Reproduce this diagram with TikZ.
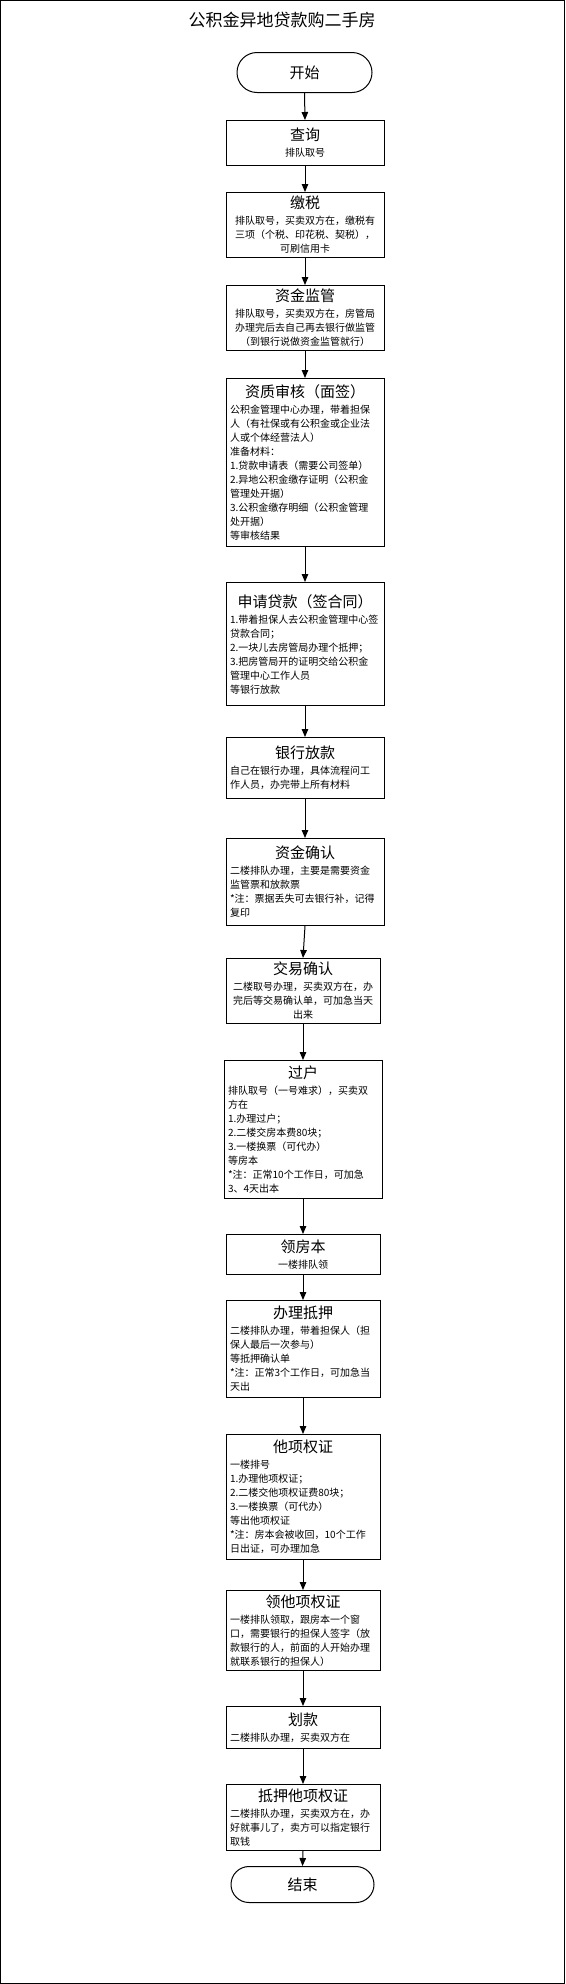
\documentclass[tikz,border=0pt]{standalone}
\usepackage{fontspec}
\setmainfont{Noto Sans CJK SC}
\usetikzlibrary{arrows.meta}
\setlength{\parindent}{0pt}
\newcommand{\steptitle}[1]{{\centering\fontsize{15}{19}\selectfont #1\par}\vspace{2pt}}

\begin{document}
\begin{tikzpicture}[x=1pt, y=-1pt, >={Triangle[length=8pt,width=6.5pt]}, line width=1pt]

\useasboundingbox (0,0) rectangle (565,1984);
\draw (0.75,0.75) rectangle (564.25,1983.25);
\node[font=\fontsize{17}{20}\selectfont] (title) at (282,20) {公积金异地贷款购二手房};

\tikzstyle{every node}=[draw, rectangle, anchor=north, font=\fontsize{15}{18}\selectfont]
\draw (304.5,52)  node[minimum width=135pt, minimum height=40pt, rounded corners=20pt] (start) {开始}
      (302.5,1866) node[minimum width=143pt, minimum height=36pt, rounded corners=18pt] (end) {结束};

\tikzstyle{every node}=[draw, rectangle, anchor=north, inner xsep=4pt, inner ysep=2pt,
  text width=150pt, align=center, font=\fontsize{10}{14}\selectfont]
\draw (305,120) node[minimum height=45pt] (chaxun) {\steptitle{查询}排队取号}
      (305,192) node[minimum height=65pt] (jiaoshui) {\steptitle{缴税}排队取号，买卖双方在，缴税有\\三项（个税、印花税、契税），\\可刷信用卡}
      (305,285) node[minimum height=65pt] (jianguan) {\steptitle{资金监管}排队取号，买卖双方在，房管局\\办理完后去自己再去银行做监管\\（到银行说做资金监管就行）};

\draw (305,378) node[minimum height=168pt, align=left] (shenhe) {\steptitle{资质审核（面签）}公积金管理中心办理，带着担保\\人（有社保或有公积金或企业法\\人或个体经营法人）\\准备材料：\\1.贷款申请表（需要公司签单）\\2.异地公积金缴存证明（公积金\\管理处开据）\\3.公积金缴存明细（公积金管理\\处开据）\\等审核结果}
      (305,582) node[minimum height=123pt, align=left] (shenqing) {\steptitle{申请贷款（签合同）}1.带着担保人去公积金管理中心签\\贷款合同；\\2.一块儿去房管局办理个抵押；\\3.把房管局开的证明交给公积金\\管理中心工作人员\\等银行放款}
      (305,737) node[minimum height=61pt, align=left] (fangkuan) {\steptitle{银行放款}自己在银行办理，具体流程问工\\作人员，办完带上所有材料}
      (305,838) node[minimum height=87pt, align=left] (queren) {\steptitle{资金确认}二楼排队办理，主要是需要资金\\监管票和放款票\\{}*注：票据丢失可去银行补，记得\\复印};

\tikzstyle{every node}=[draw, rectangle, anchor=north, inner xsep=4pt, inner ysep=2pt,
  text width=146pt, align=left, font=\fontsize{10}{14}\selectfont]
\draw (303,958)  node[minimum height=65pt, align=center] (jiaoyi) {\steptitle{交易确认}二楼取号办理，买卖双方在，办\\完后等交易确认单，可加急当天\\出来}
      (303,1060) node[minimum height=138pt, text width=150pt] (guohu) {\steptitle{过户}排队取号（一号难求），买卖双\\方在\\1.办理过户；\\2.二楼交房本费80块；\\3.一楼换票（可代办）\\等房本\\{}*注：正常10个工作日，可加急\\3、4天出本}
      (303,1234) node[minimum height=40pt, align=center] (lingfangben) {\steptitle{领房本}一楼排队领}
      (303,1300) node[minimum height=97pt] (diya) {\steptitle{办理抵押}二楼排队办理，带着担保人（担\\保人最后一次参与）\\等抵押确认单\\{}*注：正常3个工作日，可加急当\\天出}
      (303,1434) node[minimum height=125pt] (taxiang) {\steptitle{他项权证}一楼排号\\1.办理他项权证；\\2.二楼交他项权证费80块；\\3.一楼换票（可代办）\\等出他项权证\\{}*注：房本会被收回，10个工作\\日出证，可办理加急}
      (303,1590) node[minimum height=80pt] (lingtaxiang) {\steptitle{领他项权证}一楼排队领取，跟房本一个窗\\口，需要银行的担保人签字（放\\款银行的人，前面的人开始办理\\就联系银行的担保人）}
      (303,1706) node[minimum height=42pt] (huakuan) {\steptitle{划款}二楼排队办理，买卖双方在}
      (303,1784) node[minimum height=66pt] (diyataxiang) {\steptitle{抵押他项权证}二楼排队办理，买卖双方在，办\\好就事儿了，卖方可以指定银行\\取钱};

\draw[->] (start.south) -- (chaxun.north);
\draw[->] (chaxun.south) -- (jiaoshui.north);
\draw[->] (jiaoshui.south) -- (jianguan.north);
\draw[->] (jianguan.south) -- (shenhe.north);
\draw[->] (shenhe.south) -- (shenqing.north);
\draw[->] (shenqing.south) -- (fangkuan.north);
\draw[->] (fangkuan.south) -- (queren.north);
\draw[->] (queren.south) -- (jiaoyi.north);
\draw[->] (jiaoyi.south) -- (guohu.north);
\draw[->] (guohu.south) -- (lingfangben.north);
\draw[->] (lingfangben.south) -- (diya.north);
\draw[->] (diya.south) -- (taxiang.north);
\draw[->] (taxiang.south) -- (lingtaxiang.north);
\draw[->] (lingtaxiang.south) -- (huakuan.north);
\draw[->] (huakuan.south) -- (diyataxiang.north);
\draw[->] (diyataxiang.south) -- (end.north);

\end{tikzpicture}
\end{document}
